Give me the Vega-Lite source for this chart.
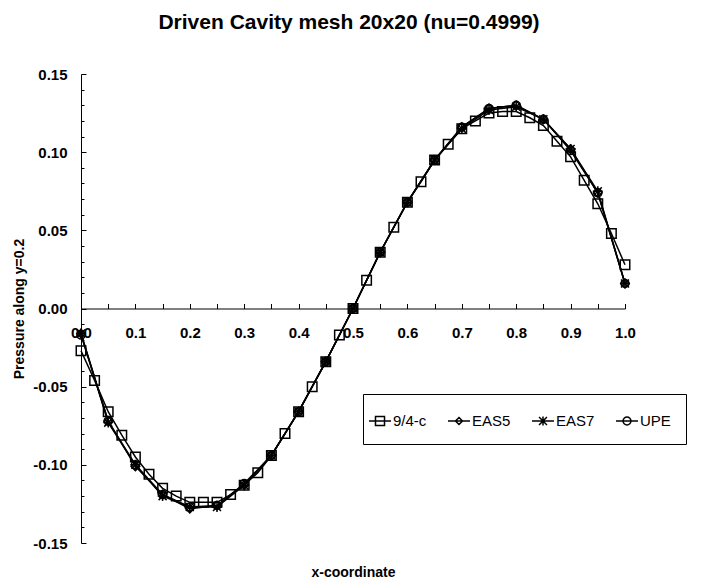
{
  "$schema": "https://vega.github.io/schema/vega-lite/v6.json",
  "width": 544,
  "height": 469,
  "autosize": "none",
  "padding": {"left": 81, "top": 74, "right": 81, "bottom": 44},
  "background": "white",
  "config": {
    "view": {"stroke": null},
    "font": "Liberation Sans",
    "axis": {"grid": false, "domainColor": "black", "tickColor": "black", "labelColor": "black", "titleColor": "black"}
  },
  "title": {
    "text": "Driven Cavity mesh 20x20 (nu=0.4999)",
    "font": "Liberation Sans",
    "fontSize": 21,
    "fontWeight": "bold",
    "color": "black",
    "frame": "group",
    "baseline": "alphabetic",
    "offset": 17,
    "anchor": "middle",
    "dx": -4
  },
  "data": {
    "values": [
      {"series": "9/4-c", "x": 0.0, "p": -0.027},
      {"series": "9/4-c", "x": 0.025, "p": -0.046},
      {"series": "9/4-c", "x": 0.05, "p": -0.066},
      {"series": "9/4-c", "x": 0.075, "p": -0.081},
      {"series": "9/4-c", "x": 0.1, "p": -0.095},
      {"series": "9/4-c", "x": 0.125, "p": -0.106},
      {"series": "9/4-c", "x": 0.15, "p": -0.115},
      {"series": "9/4-c", "x": 0.175, "p": -0.120},
      {"series": "9/4-c", "x": 0.2, "p": -0.124},
      {"series": "9/4-c", "x": 0.225, "p": -0.124},
      {"series": "9/4-c", "x": 0.25, "p": -0.124},
      {"series": "9/4-c", "x": 0.275, "p": -0.119},
      {"series": "9/4-c", "x": 0.3, "p": -0.113},
      {"series": "9/4-c", "x": 0.325, "p": -0.105},
      {"series": "9/4-c", "x": 0.35, "p": -0.094},
      {"series": "9/4-c", "x": 0.375, "p": -0.080},
      {"series": "9/4-c", "x": 0.4, "p": -0.066},
      {"series": "9/4-c", "x": 0.425, "p": -0.050},
      {"series": "9/4-c", "x": 0.45, "p": -0.034},
      {"series": "9/4-c", "x": 0.475, "p": -0.017},
      {"series": "9/4-c", "x": 0.5, "p": 0.0},
      {"series": "9/4-c", "x": 0.525, "p": 0.018},
      {"series": "9/4-c", "x": 0.55, "p": 0.036},
      {"series": "9/4-c", "x": 0.575, "p": 0.052},
      {"series": "9/4-c", "x": 0.6, "p": 0.068},
      {"series": "9/4-c", "x": 0.625, "p": 0.081},
      {"series": "9/4-c", "x": 0.65, "p": 0.095},
      {"series": "9/4-c", "x": 0.675, "p": 0.105},
      {"series": "9/4-c", "x": 0.7, "p": 0.115},
      {"series": "9/4-c", "x": 0.725, "p": 0.120},
      {"series": "9/4-c", "x": 0.75, "p": 0.125},
      {"series": "9/4-c", "x": 0.775, "p": 0.126},
      {"series": "9/4-c", "x": 0.8, "p": 0.126},
      {"series": "9/4-c", "x": 0.825, "p": 0.122},
      {"series": "9/4-c", "x": 0.85, "p": 0.117},
      {"series": "9/4-c", "x": 0.875, "p": 0.107},
      {"series": "9/4-c", "x": 0.9, "p": 0.097},
      {"series": "9/4-c", "x": 0.925, "p": 0.082},
      {"series": "9/4-c", "x": 0.95, "p": 0.067},
      {"series": "9/4-c", "x": 0.975, "p": 0.048},
      {"series": "9/4-c", "x": 1.0, "p": 0.028},

      {"series": "EAS5", "x": 0.0, "p": -0.016},
      {"series": "EAS5", "x": 0.05, "p": -0.072},
      {"series": "EAS5", "x": 0.1, "p": -0.101},
      {"series": "EAS5", "x": 0.15, "p": -0.119},
      {"series": "EAS5", "x": 0.2, "p": -0.128},
      {"series": "EAS5", "x": 0.25, "p": -0.126},
      {"series": "EAS5", "x": 0.3, "p": -0.113},
      {"series": "EAS5", "x": 0.35, "p": -0.094},
      {"series": "EAS5", "x": 0.4, "p": -0.066},
      {"series": "EAS5", "x": 0.45, "p": -0.034},
      {"series": "EAS5", "x": 0.5, "p": 0.0},
      {"series": "EAS5", "x": 0.55, "p": 0.036},
      {"series": "EAS5", "x": 0.6, "p": 0.068},
      {"series": "EAS5", "x": 0.65, "p": 0.095},
      {"series": "EAS5", "x": 0.7, "p": 0.116},
      {"series": "EAS5", "x": 0.75, "p": 0.128},
      {"series": "EAS5", "x": 0.8, "p": 0.130},
      {"series": "EAS5", "x": 0.85, "p": 0.121},
      {"series": "EAS5", "x": 0.9, "p": 0.102},
      {"series": "EAS5", "x": 0.95, "p": 0.074},
      {"series": "EAS5", "x": 1.0, "p": 0.016},

      {"series": "EAS7", "x": 0.0, "p": -0.016},
      {"series": "EAS7", "x": 0.05, "p": -0.073},
      {"series": "EAS7", "x": 0.1, "p": -0.100},
      {"series": "EAS7", "x": 0.15, "p": -0.120},
      {"series": "EAS7", "x": 0.2, "p": -0.127},
      {"series": "EAS7", "x": 0.25, "p": -0.127},
      {"series": "EAS7", "x": 0.3, "p": -0.113},
      {"series": "EAS7", "x": 0.35, "p": -0.094},
      {"series": "EAS7", "x": 0.4, "p": -0.066},
      {"series": "EAS7", "x": 0.45, "p": -0.034},
      {"series": "EAS7", "x": 0.5, "p": 0.0},
      {"series": "EAS7", "x": 0.55, "p": 0.036},
      {"series": "EAS7", "x": 0.6, "p": 0.068},
      {"series": "EAS7", "x": 0.65, "p": 0.095},
      {"series": "EAS7", "x": 0.7, "p": 0.115},
      {"series": "EAS7", "x": 0.75, "p": 0.127},
      {"series": "EAS7", "x": 0.8, "p": 0.129},
      {"series": "EAS7", "x": 0.85, "p": 0.121},
      {"series": "EAS7", "x": 0.9, "p": 0.102},
      {"series": "EAS7", "x": 0.95, "p": 0.075},
      {"series": "EAS7", "x": 1.0, "p": 0.016},

      {"series": "UPE", "x": 0.0, "p": -0.017},
      {"series": "UPE", "x": 0.05, "p": -0.072},
      {"series": "UPE", "x": 0.1, "p": -0.100},
      {"series": "UPE", "x": 0.15, "p": -0.119},
      {"series": "UPE", "x": 0.2, "p": -0.127},
      {"series": "UPE", "x": 0.25, "p": -0.126},
      {"series": "UPE", "x": 0.3, "p": -0.112},
      {"series": "UPE", "x": 0.35, "p": -0.094},
      {"series": "UPE", "x": 0.4, "p": -0.066},
      {"series": "UPE", "x": 0.45, "p": -0.034},
      {"series": "UPE", "x": 0.5, "p": 0.0},
      {"series": "UPE", "x": 0.55, "p": 0.036},
      {"series": "UPE", "x": 0.6, "p": 0.068},
      {"series": "UPE", "x": 0.65, "p": 0.095},
      {"series": "UPE", "x": 0.7, "p": 0.116},
      {"series": "UPE", "x": 0.75, "p": 0.128},
      {"series": "UPE", "x": 0.8, "p": 0.130},
      {"series": "UPE", "x": 0.85, "p": 0.121},
      {"series": "UPE", "x": 0.9, "p": 0.101},
      {"series": "UPE", "x": 0.95, "p": 0.074},
      {"series": "UPE", "x": 1.0, "p": 0.016}
    ]
  },
  "layer": [
    {
      "mark": {"type": "line", "color": "black", "strokeWidth": 1.5},
      "encoding": {
        "x": {
          "field": "x", "type": "quantitative",
          "scale": {"domain": [0, 1], "nice": false, "zero": false},
          "axis": {
            "orient": "bottom", "title": null, "offset": -234.5,
            "values": [0, 0.05, 0.1, 0.15, 0.2, 0.25, 0.3, 0.35, 0.4, 0.45, 0.5, 0.55, 0.6, 0.65, 0.7, 0.75, 0.8, 0.85, 0.9, 0.95, 1.0],
            "tickSize": -5, "labelPadding": 22,
            "labelExpr": "abs(round(datum.value * 20)) % 2 === 0 ? format(datum.value, '.1f') : ''",
            "labelFlush": false, "labelOverlap": false, "labelBound": false,
            "labelFont": "Liberation Sans", "labelFontSize": 15, "labelFontWeight": "bold",
            "domainColor": "black", "domainWidth": 1, "tickColor": "black", "tickWidth": 1
          }
        },
        "y": {
          "field": "p", "type": "quantitative",
          "scale": {"domain": [-0.15, 0.15], "nice": false, "zero": false},
          "axis": {
            "orient": "left", "title": "Pressure along y=0.2",
            "values": [-0.15, -0.1, -0.05, 0, 0.05, 0.1, 0.15],
            "tickSize": -5, "labelPadding": 19,
            "labelExpr": "(datum.value < -0.0001 ? '-' : '') + format(abs(datum.value), '.2f')",
            "labelFlush": false, "labelOverlap": false,
            "labelFont": "Liberation Sans", "labelFontSize": 15, "labelFontWeight": "bold",
            "titleFont": "Liberation Sans", "titleFontSize": 14, "titleFontWeight": "bold", "titlePadding": 6,
            "domainColor": "black", "domainWidth": 1, "tickColor": "black", "tickWidth": 1
          }
        },
        "detail": {"field": "series", "type": "nominal"}
      }
    },
    {
      "mark": {"type": "point", "filled": false, "color": "black", "strokeWidth": 1.5, "opacity": 1, "size": 100},
      "encoding": {
        "x": {
          "field": "x", "type": "quantitative",
          "scale": {"domain": [0, 1], "nice": false, "zero": false},
          "axis": {
            "orient": "bottom", "title": "x-coordinate", "domain": false, "ticks": false, "labels": false,
            "titleFont": "Liberation Sans", "titleFontSize": 14, "titleFontWeight": "bold", "titlePadding": 22
          }
        },
        "y": {
          "field": "p", "type": "quantitative",
          "scale": {"domain": [-0.15, 0.15], "nice": false, "zero": false},
          "axis": {
            "orient": "left", "title": null, "domain": false, "labels": false,
            "values": [-0.14, -0.13, -0.12, -0.11, -0.09, -0.08, -0.07, -0.06, -0.04, -0.03, -0.02, -0.01, 0.01, 0.02, 0.03, 0.04, 0.06, 0.07, 0.08, 0.09, 0.11, 0.12, 0.13, 0.14],
            "tickSize": -3, "tickColor": "black", "tickWidth": 1
          }
        },
        "shape": {
          "field": "series", "type": "nominal",
          "scale": {
            "domain": ["9/4-c", "EAS5", "EAS7", "UPE"],
            "range": [
              "M-0.95,-0.95H0.95V0.95H-0.95Z",
              "M0,-0.85L0.85,0L0,0.85L-0.85,0Z",
              "M-0.8,-0.8L0.8,0.8M-0.8,0.8L0.8,-0.8M0,-1V1M-1,0H1",
              "M-0.8,0A0.8,0.8,0,1,0,0.8,0A0.8,0.8,0,1,0,-0.8,0Z"
            ]
          },
          "legend": null
        }
      }
    },
    {
      "transform": [{"filter": "datum.series === 'none'"}],
      "mark": {"type": "point", "filled": false, "color": "black", "strokeWidth": 1.5, "opacity": 1},
      "encoding": {
        "shape": {
          "field": "series", "type": "nominal",
          "scale": {
            "domain": ["9/4-c", "EAS5", "EAS7", "UPE"],
            "range": [
              "M-1,0H1M-0.41,-0.41H0.41V0.41H-0.41Z",
              "M-1,0H1M0,-0.32L0.32,0L0,0.32L-0.32,0Z",
              "M-1,0H1M-0.36,-0.36L0.36,0.36M-0.36,0.36L0.36,-0.36M0,-0.4V0.4",
              "M-1,0H1M-0.36,0A0.36,0.36,0,1,0,0.36,0A0.36,0.36,0,1,0,-0.36,0Z"
            ]
          },
          "legend": {
            "orient": "none", "legendX": 282, "legendY": 320,
            "direction": "horizontal", "columns": 4, "title": null,
            "strokeColor": "black", "fillColor": "white",
            "padding": 15, "symbolSize": 484, "symbolOffset": -10, "labelOffset": 1, "columnPadding": 18,
            "symbolStrokeColor": "black", "symbolStrokeWidth": 1.5, "symbolFillColor": "transparent",
            "labelFont": "Liberation Sans", "labelFontSize": 15, "labelColor": "black"
          }
        }
      }
    }
  ],
  "resolve": {"axis": {"x": "independent", "y": "independent"}, "scale": {"shape": "independent"}}
}
